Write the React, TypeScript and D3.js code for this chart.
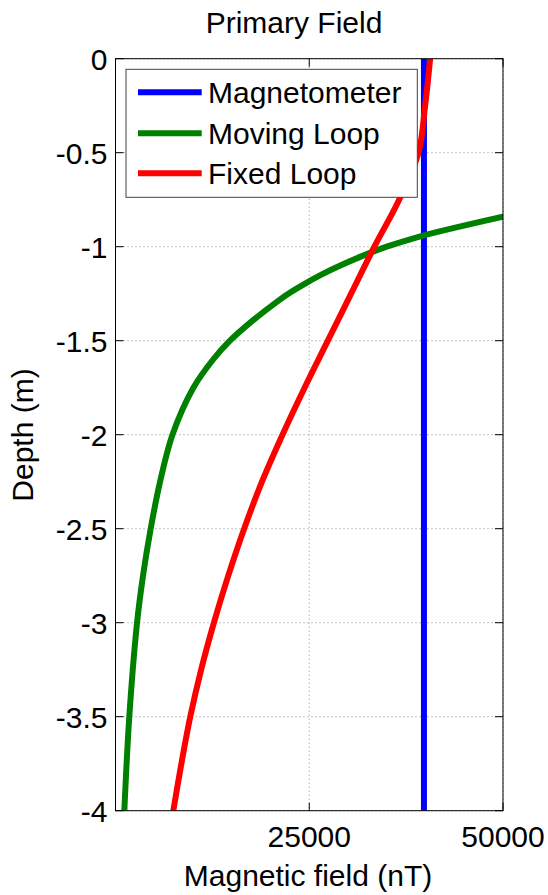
import React from "react";
import * as d3 from "d3";

// ---- data ----
const xTicks = [25000, 50000];
const yTicks = [0, -0.5, -1, -1.5, -2, -2.5, -3, -3.5, -4];

const magDepth = [0, -4];
const magField = [39800, 39800];

const movDepth = [-0.8, -0.84, -0.9, -0.95, -1.0, -1.05, -1.1, -1.15, -1.2, -1.25, -1.3, -1.4, -1.5, -1.6, -1.75, -2.0, -2.25, -2.5, -2.75, -3.0, -3.5, -4.0];
const movField = [54500, 50000, 43700, 38900, 35000, 31800, 29000, 26500, 24300, 22300, 20600, 17500, 14770, 12600, 10050, 7350, 5750, 4540, 3550, 2780, 1780, 1140];

const fixDepth = [0, -0.25, -0.5, -0.75, -1.0, -1.25, -1.5, -1.75, -2.0, -2.25, -2.5, -2.75, -3.0, -3.25, -3.5, -3.75, -4.0];
const fixField = [40600, 39950, 39100, 36600, 33400, 30400, 27400, 24400, 21550, 18900, 16600, 14550, 12700, 11050, 9650, 8500, 7460];

const seriesNames = ["Magnetometer", "Moving Loop", "Fixed Loop"];
const seriesColors = ["#0000ff", "#008000", "#ff0000"];

const FONT = "'Liberation Sans', Arial, Helvetica, sans-serif";

export default function App() {
  const W = 548, H = 895;
  const L = 115.5, R = 503, T = 58.7, B = 810.7;
  const x = d3.scaleLinear().domain([0, 50000]).range([L, R]);
  const y = d3.scaleLinear().domain([0, -4]).range([T, B]);

  const line = d3
    .line<[number, number]>()
    .x((d) => x(d[0]))
    .y((d) => y(d[1]))
    .curve(d3.curveCatmullRom.alpha(0.5));

  const series = [
    magField.map((v, i) => [v, magDepth[i]] as [number, number]),
    movField.map((v, i) => [v, movDepth[i]] as [number, number]),
    fixField.map((v, i) => [v, fixDepth[i]] as [number, number]),
  ];

  const tickLen = 8;
  const fs = 30;

  const legX = 126, legY = 69.3, legW = 291.3, legH = 128;
  const rowY = [92.3, 133.3, 173.3];

  return (
    <svg
      width={W}
      height={H}
      style={{ position: "absolute", left: 0, top: 0, background: "#fff" }}
      fontFamily={FONT}
    >
      <defs>
        <clipPath id="plotclip">
          <rect x={L} y={T} width={R - L} height={B - T} />
        </clipPath>
      </defs>
      <rect x={0} y={0} width={W} height={H} fill="#fff" />
      {/* grid */}
      {xTicks.map((t) => (
        <line key={"gx" + t} x1={x(t)} x2={x(t)} y1={T} y2={B} stroke="#888" strokeWidth={1} strokeDasharray="1,3" />
      ))}
      {yTicks.map((t) => (
        <line key={"gy" + t} x1={L} x2={R} y1={y(t)} y2={y(t)} stroke="#888" strokeWidth={1} strokeDasharray="1,3" />
      ))}
      {/* ticks */}
      {xTicks.map((t) => (
        <g key={"tx" + t}>
          <line x1={x(t)} x2={x(t)} y1={B} y2={B - tickLen} stroke="#000" />
          <line x1={x(t)} x2={x(t)} y1={T} y2={T + tickLen} stroke="#000" />
        </g>
      ))}
      {yTicks.map((t) => (
        <g key={"ty" + t}>
          <line x1={L} x2={L + tickLen} y1={y(t)} y2={y(t)} stroke="#000" />
          <line x1={R} x2={R - tickLen} y1={y(t)} y2={y(t)} stroke="#000" />
        </g>
      ))}
      {/* series */}
      <g clipPath="url(#plotclip)">
        {series.map((s, i) => (
          <path key={i} d={line(s) || ""} fill="none" stroke={seriesColors[i]} strokeWidth={6} strokeLinejoin="round" />
        ))}
      </g>
      {/* axes box */}
      <rect x={L} y={T} width={R - L} height={B - T} fill="none" stroke="#000" strokeWidth={1} />
      {/* tick labels */}
      {yTicks.map((t) => (
        <text key={"ly" + t} x={107.5} y={y(t)} dy="0.36em" textAnchor="end" fontSize={fs} fill="#000">
          {String(t)}
        </text>
      ))}
      {xTicks.map((t) => (
        <text key={"lx" + t} x={x(t)} y={846.5} textAnchor="middle" fontSize={fs} fill="#000">
          {String(t)}
        </text>
      ))}
      {/* labels */}
      <text x={294} y={33} textAnchor="middle" fontSize={fs} fill="#000">
        Primary Field
      </text>
      <text x={308} y={886} textAnchor="middle" fontSize={fs} fill="#000">
        Magnetic field (nT)
      </text>
      <text transform="translate(33.3,435) rotate(-90)" textAnchor="middle" fontSize={fs} fill="#000">
        Depth (m)
      </text>
      {/* legend */}
      <rect x={legX} y={legY} width={legW} height={legH} fill="#fff" stroke="#404040" strokeWidth={1} />
      {seriesNames.map((n, i) => (
        <g key={n}>
          <line x1={138} x2={201.7} y1={rowY[i]} y2={rowY[i]} stroke={seriesColors[i]} strokeWidth={6} />
          <text x={208} y={rowY[i]} dy="0.36em" fontSize={fs} fill="#000">
            {n}
          </text>
        </g>
      ))}
    </svg>
  );
}
